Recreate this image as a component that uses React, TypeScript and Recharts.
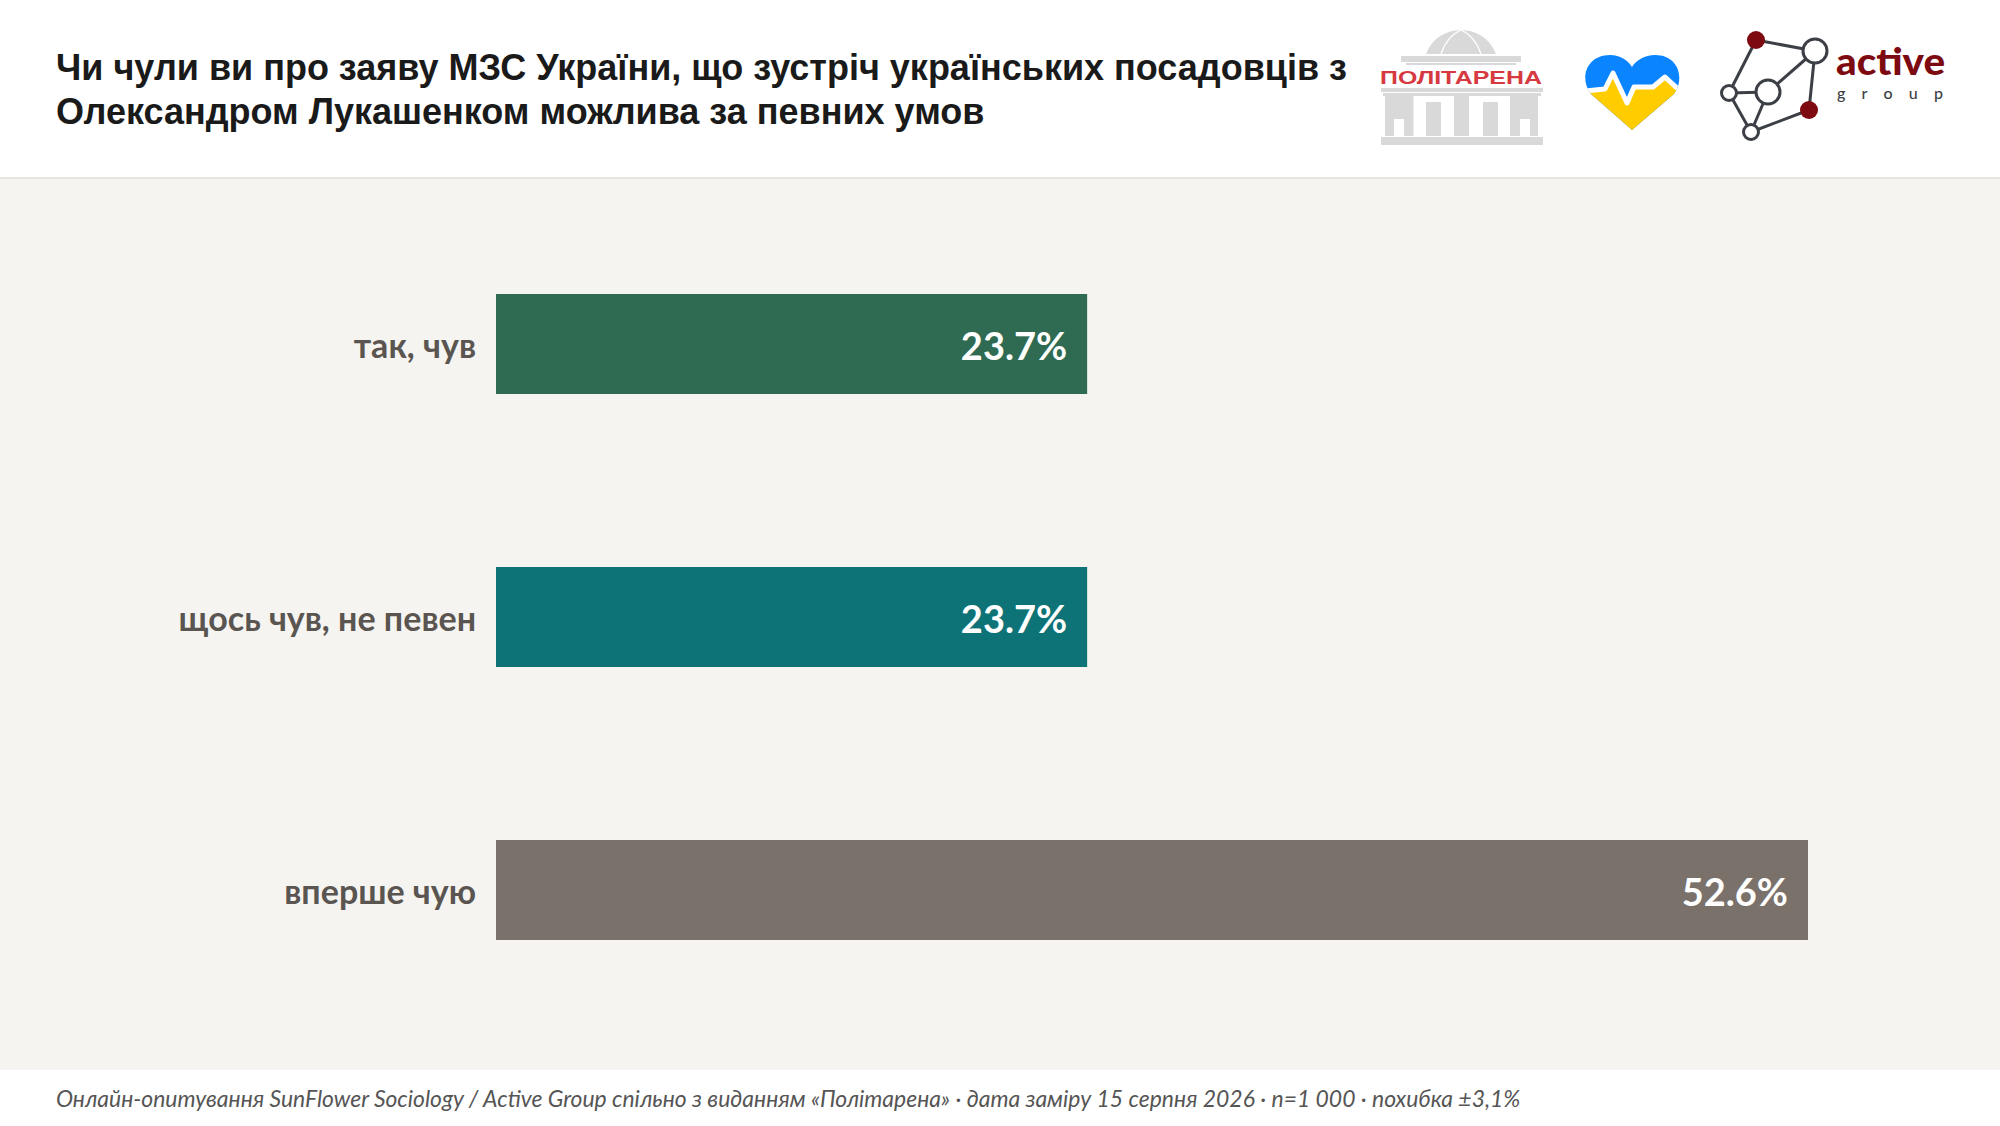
import React from 'react';
import { BarChart, Bar, XAxis, YAxis, Cell, LabelList } from 'recharts';

const categories = ['так, чув', 'щось чув, не певен', 'вперше чую'];
const values = [23.7, 23.7, 52.6];
const barColors = ['#2f6b52', '#0d7377', '#7a716b'];

const titleLines = [
  'Чи чули ви про заяву МЗС України, що зустріч українських посадовців з',
  'Олександром Лукашенком можлива за певних умов',
];
const footnote =
  'Онлайн-опитування SunFlower Sociology / Active Group спільно з виданням «Політарена» · дата заміру 15 серпня 2026 · n=1 000 · похибка ±3,1%';

const chartData = categories.map((name, i) => ({ name, value: values[i] }));

const GREY = '#d9d9d9';
const DARK = '#3c3f46';
const MAROON = '#7d0a10';

function PolitarenaLogo() {
  const cutouts = [
    [1413.5, 96, 40.5, 40],
    [1469, 96, 41, 40],
    [1394, 119, 10, 17],
    [1520, 119, 10, 17],
  ];
  const columns = [
    [1426, 102, 15, 34],
    [1483, 102, 15, 34],
  ];
  return (
    <g>
      <path d="M1426 54 C1432 38 1446 30 1461 30 C1476 30 1490 38 1496 54 Z" fill={GREY} />
      <path d="M1441 54 C1445 42 1452 34 1461 30 C1470 34 1477 42 1481 54" fill="none" stroke="#fff" strokeWidth={1.2} />
      <rect x={1401} y={56} width={120} height={6} fill={GREY} />
      <rect x={1406} y={63} width={110} height={2} fill={GREY} />
      <text x={1380} y={84} textLength={162} lengthAdjust="spacingAndGlyphs" fontFamily="Liberation Sans" fontWeight={700} fontSize={19} fill="#d6393f">
        ПОЛІТАРЕНА
      </text>
      <rect x={1381} y={88} width={162} height={4} fill={GREY} />
      <rect x={1383} y={93} width={158} height={3} fill={GREY} />
      <rect x={1385} y={96} width={153} height={40} fill={GREY} />
      {cutouts.map(([x, y, w, h]) => (
        <rect key={`${x}-${y}`} x={x} y={y} width={w} height={h} fill="#fff" />
      ))}
      {columns.map(([x, y, w, h]) => (
        <rect key={`${x}-${y}`} x={x} y={y} width={w} height={h} fill={GREY} />
      ))}
      <rect x={1381} y={137} width={162} height={8} fill={GREY} />
    </g>
  );
}

function HeartLogo() {
  const heart =
    'M1632 130 L1591 94 C1579 79 1586 55 1610 55 C1620 55 1628 60 1632 67 C1636 60 1645 55 1655 55 C1679 55 1685 79 1674 94 Z';
  const pulse = '1585,91 1605,89 1613,73 1627,103 1634,87 1653,87 1665,77 1680,91';
  return (
    <g>
      <defs>
        <clipPath id="heartClip">
          <path d={heart} />
        </clipPath>
      </defs>
      <g clipPath="url(#heartClip)">
        <rect x={1580} y={50} width={110} height={85} fill="#0a84ff" />
        <polygon points={`${pulse} 1680,135 1585,135`} fill="#ffcc00" />
        <polyline points={pulse} fill="none" stroke="#fff" strokeWidth={5} strokeLinejoin="round" />
      </g>
    </g>
  );
}

function ActiveGroupLogo() {
  const edges = [
    [1756, 40, 1815, 51],
    [1756, 40, 1729, 93],
    [1729, 93, 1768, 92],
    [1768, 92, 1815, 51],
    [1815, 51, 1809, 110],
    [1809, 110, 1751, 132],
    [1751, 132, 1768, 92],
    [1751, 132, 1729, 93],
  ];
  const openNodes = [
    [1815, 51, 12],
    [1768, 92, 12],
    [1729, 93, 7.5],
    [1751, 132, 7.5],
  ];
  const redNodes = [
    [1756, 40, 9],
    [1809, 110, 9],
  ];
  return (
    <g>
      {edges.map(([x1, y1, x2, y2]) => (
        <line key={`${x1}-${y1}-${x2}`} x1={x1} y1={y1} x2={x2} y2={y2} stroke={DARK} strokeWidth={3} />
      ))}
      {openNodes.map(([cx, cy, r]) => (
        <circle key={cx} cx={cx} cy={cy} r={r} fill="#fff" stroke={DARK} strokeWidth={3} />
      ))}
      {redNodes.map(([cx, cy, r]) => (
        <circle key={cx} cx={cx} cy={cy} r={r} fill={MAROON} />
      ))}
      <text x={1836} y={75} textLength={109} lengthAdjust="spacingAndGlyphs" fontFamily="Lato" fontWeight={900} fontSize={37} fill={MAROON}>
        active
      </text>
      <text x={1837} y={99} textLength={106} fontFamily="Lato" fontWeight={500} fontSize={16} fill={DARK}>
        group
      </text>
    </g>
  );
}

function CategoryTick({ x, y, payload }: any) {
  return (
    <text x={x} y={y + 2.5} dy="0.355em" textAnchor="end" fontFamily="Lato" fontWeight={700} fontSize={34} fill="#5a5550">
      {payload.value}
    </text>
  );
}

export default function App() {
  return (
    <div style={{ position: 'absolute', left: 0, top: 0, width: 2000, height: 1126, background: '#fff', overflow: 'hidden' }}>
      <div style={{ position: 'absolute', left: 0, top: 177, width: 2000, height: 2, background: '#e6e5e1' }} />
      <div style={{ position: 'absolute', left: 0, top: 179, width: 2000, height: 891, background: '#f5f4f0' }} />

      {titleLines.map((line, i) => (
        <div
          key={line}
          style={{
            position: 'absolute',
            left: 56,
            top: 48 + i * 44,
            lineHeight: '40px',
            whiteSpace: 'nowrap',
            fontFamily: '"Liberation Sans"',
            fontWeight: 700,
            fontSize: 36,
            color: '#1a1a1a',
          }}
        >
          {line}
        </div>
      ))}

      <svg width={2000} height={177} style={{ position: 'absolute', left: 0, top: 0 }}>
        <PolitarenaLogo />
        <HeartLogo />
        <ActiveGroupLogo />
      </svg>

      <div style={{ position: 'absolute', left: 0, top: 0 }}>
        <BarChart
          width={2000}
          height={1126}
          data={chartData}
          layout="vertical"
          barSize={100}
          margin={{ top: 207, right: 192, bottom: 100, left: 0 }}
        >
          <XAxis type="number" domain={[0, 52.6]} hide />
          <YAxis
            type="category"
            dataKey="name"
            width={496}
            axisLine={false}
            tickLine={false}
            tickSize={0}
            tickMargin={20}
            interval={0}
            tick={<CategoryTick />}
          />
          <Bar dataKey="value" isAnimationActive={false}>
            {categories.map((name, i) => (
              <Cell key={name} fill={barColors[i]} />
            ))}
            <LabelList
              dataKey="value"
              position="insideRight"
              offset={20}
              dy={2.5}
              formatter={(v: number) => `${v.toFixed(1)}%`}
              style={{ fontFamily: 'Lato', fontWeight: 700, fontSize: 38, fill: '#ffffff' }}
            />
          </Bar>
        </BarChart>
      </div>

      <div
        style={{
          position: 'absolute',
          left: 56,
          top: 1084,
          lineHeight: '28px',
          whiteSpace: 'nowrap',
          fontFamily: 'Lato',
          fontStyle: 'italic',
          fontSize: 22.92,
          color: '#555555',
        }}
      >
        {footnote}
      </div>
    </div>
  );
}
